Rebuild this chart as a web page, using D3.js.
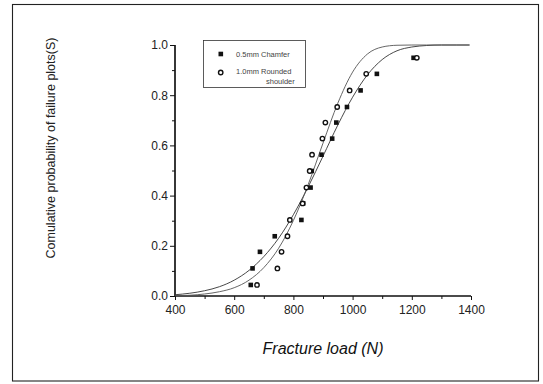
<!DOCTYPE html>
<html>
<head>
<meta charset="utf-8">
<script src="https://cdn.jsdelivr.net/npm/d3@7"></script>
<style>
  body { margin: 0; background: #fff; }
  svg { display: block; font-family: Arial, "Liberation Sans", sans-serif; }
</style>
</head>
<body>
<div id="chart"></div>
<script>
// --- data
const ranks = [0.044, 0.110, 0.176, 0.238, 0.303, 0.369, 0.432, 0.498, 0.563, 0.627, 0.691, 0.753, 0.819, 0.885, 0.949];
const chamferLoads = [656, 662, 687, 737, 827, 833, 858, 862, 895, 931, 945, 981, 1027, 1082, 1206];
const roundedLoads = [677, 746, 760, 780, 788, 831, 844, 855, 863, 898, 908, 948, 990, 1046, 1217];

// fitted curves, sampled every 50 N
const curveLoads = [400, 450, 500, 550, 600, 650, 700, 750, 800, 850, 900, 950, 1000, 1050, 1100, 1150, 1200, 1250, 1300, 1350, 1395];
const chamferFit = [0.005, 0.011, 0.021, 0.037, 0.063, 0.102, 0.157, 0.230, 0.324, 0.435, 0.557, 0.681, 0.792, 0.881, 0.942, 0.977, 0.992, 0.998, 1.0, 1.0, 1.0];
const roundedFit = [0.001, 0.003, 0.008, 0.017, 0.033, 0.063, 0.113, 0.190, 0.301, 0.444, 0.609, 0.768, 0.892, 0.964, 0.992, 0.999, 1.0, 1.0, 1.0, 1.0, 1.0];

const xTicks = [400, 600, 800, 1000, 1200, 1400];
const yTicks = [0.0, 0.2, 0.4, 0.6, 0.8, 1.0];
const legendLabels = ['0.5mm Chamfer', '1.0mm Rounded', 'shoulder'];

const width = 543, height = 384;

const svg = d3.select('#chart').append('svg')
    .attr('width', width).attr('height', height);

// outer frame
svg.append('rect')
    .attr('x', 12.5).attr('y', 4.5)
    .attr('width', 526).attr('height', 376.5)
    .attr('fill', 'none').attr('stroke', '#222').attr('stroke-width', 1.1);

const x = d3.scaleLinear().domain([400, 1400]).range([175, 471]);
const y = d3.scaleLinear().domain([0, 1]).range([296, 45]);

// --- axes
const gx = svg.append('g').attr('transform', `translate(0,${y(0)})`);
gx.call(d3.axisBottom(x).tickValues(xTicks).tickFormat(d3.format('d')).tickSize(4).tickPadding(5));
gx.append('g').call(d3.axisBottom(x).tickValues(d3.range(500, 1400, 200)).tickSize(3).tickFormat(''));

const gy = svg.append('g').attr('transform', `translate(${x(400)},0)`);
gy.call(d3.axisLeft(y).tickValues(yTicks).tickFormat(d3.format('.1f')).tickSize(5).tickPadding(2));
gy.append('g').call(d3.axisLeft(y).tickValues([0.1, 0.3, 0.5, 0.7, 0.9]).tickSize(3).tickFormat(''));

svg.selectAll('.domain').attr('stroke', '#111').attr('stroke-width', 1.2)
    .attr('d', function () { return d3.select(this).attr('d').replace(/V-?\d+(\.\d+)?/g, m => m); });
svg.selectAll('.tick line').attr('stroke', '#111');
svg.selectAll('.tick text').attr('font-size', 12).attr('fill', '#222')
    .attr('font-family', 'Arial, "Liberation Sans", sans-serif');
// remove outer tick stubs on domains
gx.selectAll('.domain').attr('d', `M${x(400)},0H${x(1400)}`);
gy.selectAll('.domain').attr('d', `M0,${y(0)}V${y(1)}`);

// --- fitted curves
const line = d3.line()
    .x((d, i) => x(curveLoads[i]))
    .y(d => y(d))
    .curve(d3.curveMonotoneX);

svg.append('path').datum(chamferFit)
    .attr('d', line).attr('fill', 'none')
    .attr('stroke', '#333').attr('stroke-width', 0.9);
svg.append('path').datum(roundedFit)
    .attr('d', line).attr('fill', 'none')
    .attr('stroke', '#555').attr('stroke-width', 0.9);

// --- points
svg.append('g').selectAll('rect')
    .data(chamferLoads)
    .join('rect')
    .attr('x', d => x(d) - 2.3)
    .attr('y', (d, i) => y(ranks[i]) - 2.3)
    .attr('width', 4.6).attr('height', 4.6)
    .attr('fill', '#111');

svg.append('g').selectAll('circle')
    .data(roundedLoads)
    .join('circle')
    .attr('cx', d => x(d))
    .attr('cy', (d, i) => y(ranks[i]))
    .attr('r', 2.2)
    .attr('fill', '#fff')
    .attr('stroke', '#111').attr('stroke-width', 1.4);

// --- legend
const lg = svg.append('g');
lg.append('rect')
    .attr('x', 203.5).attr('y', 40.5).attr('width', 102).attr('height', 47)
    .attr('fill', '#fff').attr('stroke', '#333').attr('stroke-width', 0.8);
lg.append('rect').attr('x', 218.5).attr('y', 51.7).attr('width', 4.6).attr('height', 4.6).attr('fill', '#111');
lg.append('circle').attr('cx', 220.7).attr('cy', 72.5).attr('r', 2.2)
    .attr('fill', '#fff').attr('stroke', '#111').attr('stroke-width', 1.4);
lg.append('text').attr('x', 236).attr('y', 56.5).text(legendLabels[0]);
lg.append('text').attr('x', 236).attr('y', 74).text(legendLabels[1]);
lg.append('text').attr('x', 266).attr('y', 84).text(legendLabels[2]);
lg.selectAll('text').attr('font-size', 7.5).attr('fill', '#444');

// --- axis titles
svg.append('text')
    .attr('x', 323).attr('y', 354)
    .attr('text-anchor', 'middle')
    .attr('font-size', 16).attr('font-style', 'italic').attr('fill', '#111')
    .text('Fracture load (N)');

svg.append('text')
    .attr('transform', 'translate(55,148) rotate(-90)')
    .attr('text-anchor', 'middle')
    .attr('font-size', 12.5).attr('fill', '#222')
    .text('Comulative probability of failure plots(S)');
</script>
</body>
</html>
